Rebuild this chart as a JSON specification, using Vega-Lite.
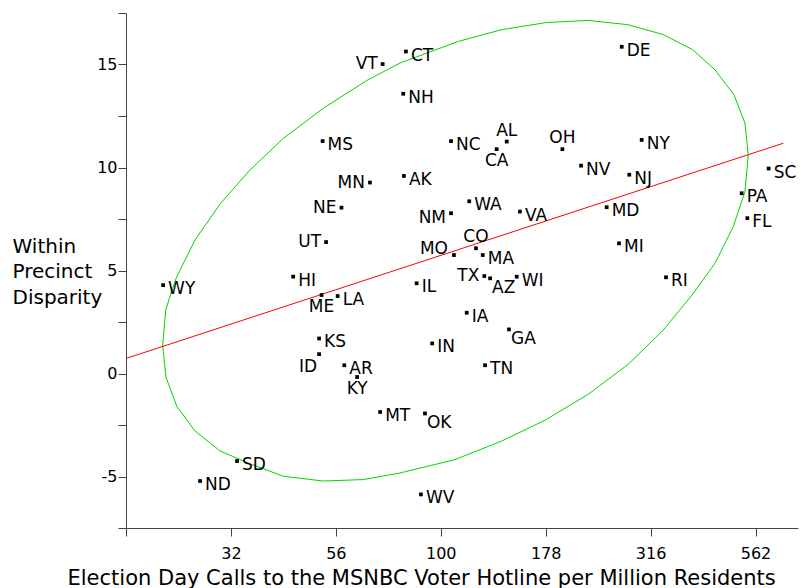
{
  "$schema": "https://vega.github.io/schema/vega-lite/v6.json",
  "width": 672,
  "height": 515,
  "autosize": {"type": "none"},
  "padding": {"left": 126, "top": 13, "right": 3, "bottom": 60},
  "background": "white",
  "config": {
    "view": {"stroke": null},
    "font": "DejaVu Sans",
    "axis": {"grid": false, "domainColor": "#444", "tickColor": "#444", "labelColor": "#000", "titleColor": "#000", "labelFont": "DejaVu Sans", "titleFont": "DejaVu Sans", "titleFontWeight": "normal"}
  },
  "datasets": {
    "states": [
      {"s": "VT", "x": 72.7, "y": 15.02},
      {"s": "MS", "x": 52.3, "y": 11.28},
      {"s": "MN", "x": 67.8, "y": 9.27},
      {"s": "NE", "x": 58.0, "y": 8.05},
      {"s": "UT", "x": 53.3, "y": 6.38},
      {"s": "WY", "x": 21.8, "y": 4.29},
      {"s": "HI", "x": 44.5, "y": 4.70},
      {"s": "CT", "x": 82.6, "y": 15.63},
      {"s": "DE", "x": 269.9, "y": 15.86},
      {"s": "NH", "x": 81.4, "y": 13.58},
      {"s": "AL", "x": 143.6, "y": 11.26},
      {"s": "NC", "x": 105.8, "y": 11.28},
      {"s": "CA", "x": 135.9, "y": 10.89},
      {"s": "OH", "x": 194.9, "y": 10.89},
      {"s": "NY", "x": 301.1, "y": 11.34},
      {"s": "NV", "x": 215.9, "y": 10.09},
      {"s": "NJ", "x": 281.3, "y": 9.65},
      {"s": "SC", "x": 604.4, "y": 9.95},
      {"s": "AK", "x": 81.7, "y": 9.59},
      {"s": "WA", "x": 116.9, "y": 8.36},
      {"s": "PA", "x": 521.2, "y": 8.75},
      {"s": "NM", "x": 105.8, "y": 7.78},
      {"s": "VA", "x": 154.4, "y": 7.86},
      {"s": "MD", "x": 248.5, "y": 8.07},
      {"s": "FL", "x": 537.6, "y": 7.54},
      {"s": "CO", "x": 121.3, "y": 6.08},
      {"s": "MO", "x": 107.5, "y": 5.75},
      {"s": "MA", "x": 125.9, "y": 5.75},
      {"s": "MI", "x": 265.9, "y": 6.32},
      {"s": "TX", "x": 127.0, "y": 4.73},
      {"s": "AZ", "x": 131.1, "y": 4.62},
      {"s": "WI", "x": 151.7, "y": 4.70},
      {"s": "RI", "x": 344.1, "y": 4.67},
      {"s": "IL", "x": 87.6, "y": 4.38},
      {"s": "ME", "x": 52.0, "y": 3.81},
      {"s": "LA", "x": 56.8, "y": 3.76},
      {"s": "KS", "x": 51.3, "y": 1.70},
      {"s": "ID", "x": 51.3, "y": 0.94},
      {"s": "AR", "x": 58.9, "y": 0.40},
      {"s": "KY", "x": 63.2, "y": -0.17},
      {"s": "MT", "x": 71.7, "y": -1.87},
      {"s": "SD", "x": 32.7, "y": -4.25},
      {"s": "ND", "x": 26.7, "y": -5.22},
      {"s": "IA", "x": 115.3, "y": 2.95},
      {"s": "GA", "x": 145.4, "y": 2.14},
      {"s": "IN", "x": 95.4, "y": 1.46},
      {"s": "TN", "x": 127.5, "y": 0.40},
      {"s": "OK", "x": 91.7, "y": -1.94},
      {"s": "WV", "x": 89.7, "y": -5.87}
    ],
    "ellipse": [
      {"i": 1, "x": 79.95, "y": 15.07},
      {"i": 2, "x": 110.1, "y": 16.12},
      {"i": 3, "x": 139.7, "y": 16.69},
      {"i": 4, "x": 178.8, "y": 17.04},
      {"i": 5, "x": 224.6, "y": 17.14},
      {"i": 6, "x": 279.8, "y": 16.93},
      {"i": 7, "x": 339.1, "y": 16.45},
      {"i": 8, "x": 398.4, "y": 15.72},
      {"i": 9, "x": 450.2, "y": 14.74},
      {"i": 10, "x": 499.6, "y": 13.53},
      {"i": 11, "x": 530.7, "y": 12.15},
      {"i": 12, "x": 540.3, "y": 10.61},
      {"i": 13, "x": 530.7, "y": 8.83},
      {"i": 14, "x": 497.7, "y": 7.13},
      {"i": 15, "x": 450.2, "y": 5.35},
      {"i": 16, "x": 396.9, "y": 3.81},
      {"i": 17, "x": 339.1, "y": 2.11},
      {"i": 18, "x": 279.8, "y": 0.45},
      {"i": 19, "x": 224.6, "y": -1.01},
      {"i": 20, "x": 177.1, "y": -2.27},
      {"i": 21, "x": 139.7, "y": -3.28},
      {"i": 22, "x": 108.1, "y": -4.18},
      {"i": 23, "x": 79.95, "y": -4.83},
      {"i": 24, "x": 65.4, "y": -5.15},
      {"i": 25, "x": 52.5, "y": -5.22},
      {"i": 26, "x": 42.2, "y": -4.99},
      {"i": 27, "x": 35.1, "y": -4.38},
      {"i": 28, "x": 29.8, "y": -3.76},
      {"i": 29, "x": 25.97, "y": -2.79},
      {"i": 30, "x": 23.49, "y": -1.59},
      {"i": 31, "x": 22.14, "y": -0.17},
      {"i": 32, "x": 21.75, "y": 1.38},
      {"i": 33, "x": 22.11, "y": 3.08},
      {"i": 34, "x": 22.89, "y": 4.05},
      {"i": 35, "x": 23.49, "y": 4.70},
      {"i": 36, "x": 25.97, "y": 6.48},
      {"i": 37, "x": 29.8, "y": 8.23},
      {"i": 38, "x": 35.1, "y": 9.88},
      {"i": 39, "x": 42.2, "y": 11.42},
      {"i": 40, "x": 52.5, "y": 12.88},
      {"i": 41, "x": 66.6, "y": 14.22},
      {"i": 42, "x": 79.95, "y": 15.07}
    ],
    "fit": [
      {"x": 17.783, "y": 0.73},
      {"x": 655, "y": 11.18}
    ]
  },
  "layer": [
    {
      "data": {"name": "ellipse"},
      "mark": {"type": "line", "color": "#00d400", "strokeWidth": 1, "interpolate": "linear"},
      "encoding": {
        "x": {"field": "x", "type": "quantitative", "scale": {"type": "log", "domain": [17.783, 709.9], "nice": false},
          "axis": {"values": [17.783, 31.623, 56.234, 100, 177.83, 316.23, 562.34], "labelExpr": "datum.value < 20 ? '' : format(datum.value, '.0f')", "tickSize": 8, "labelPadding": 9, "labelFontSize": 16, "title": "Election Day Calls to the MSNBC Voter Hotline per Million Residents", "titleFontSize": 21, "titleAlign": "left", "titleAnchor": "start", "titleBaseline": "alphabetic", "titleX": -59, "titleY": 56, "labelFlush": false}},
        "y": {"field": "y", "type": "quantitative", "scale": {"domain": [-7.5, 17.5], "nice": false, "zero": false},
          "axis": {"values": [-7.5, -5, -2.5, 0, 2.5, 5, 7.5, 10, 12.5, 15, 17.5], "labelExpr": "datum.value % 5 == 0 ? toString(datum.value) : ''", "tickSize": 8, "labelPadding": 1, "labelFontSize": 16, "title": ["Within", "Precinct", "Disparity"], "titleFontSize": 20, "titleAngle": 0, "titleAlign": "left", "titleAnchor": "start", "titleBaseline": "alphabetic", "titleX": -114, "titleY": 239, "titleLineHeight": 25.5, "labelFlush": false,
            "encode": {"ticks": {"update": {"x2": {"signal": "datum.value % 5 == 0 ? -8 : -4"}}}}}},
        "order": {"field": "i", "type": "quantitative"}
      }
    },
    {
      "data": {"name": "fit"},
      "mark": {"type": "line", "color": "#ff0000", "strokeWidth": 1},
      "encoding": {
        "x": {"field": "x", "type": "quantitative"},
        "y": {"field": "y", "type": "quantitative"}
      }
    },
    {
      "data": {"name": "states"},
      "layer": [
        {
          "mark": {"type": "point", "shape": "square", "filled": true, "color": "#000", "size": 14, "opacity": 1},
          "encoding": {"x": {"field": "x", "type": "quantitative"}, "y": {"field": "y", "type": "quantitative"}}
        },
        {
          "transform": [{"filter": {"not": {"field": "s", "oneOf": ["VT", "MN", "NE", "UT", "TX", "NM", "MO", "AL", "OH", "CO", "CA", "KY", "ME", "ID", "AZ", "OK", "GA"]}}}],
          "mark": {"type": "text", "align": "left", "baseline": "middle", "dx": 5, "dy": 4, "fontSize": 17, "color": "#000"},
          "encoding": {"x": {"field": "x", "type": "quantitative"}, "y": {"field": "y", "type": "quantitative"}, "text": {"field": "s"}}
        },
        {
          "transform": [{"filter": {"field": "s", "oneOf": ["VT", "MN", "NE", "UT", "TX"]}}],
          "mark": {"type": "text", "align": "right", "baseline": "middle", "dx": -5, "dy": 0, "fontSize": 17, "color": "#000"},
          "encoding": {"x": {"field": "x", "type": "quantitative"}, "y": {"field": "y", "type": "quantitative"}, "text": {"field": "s"}}
        },
        {
          "transform": [{"filter": {"field": "s", "oneOf": ["NM"]}}],
          "mark": {"type": "text", "align": "right", "baseline": "middle", "dx": -5, "dy": 5, "fontSize": 17, "color": "#000"},
          "encoding": {"x": {"field": "x", "type": "quantitative"}, "y": {"field": "y", "type": "quantitative"}, "text": {"field": "s"}}
        },
        {
          "transform": [{"filter": {"field": "s", "oneOf": ["MO"]}}],
          "mark": {"type": "text", "align": "right", "baseline": "middle", "dx": -6, "dy": -6, "fontSize": 17, "color": "#000"},
          "encoding": {"x": {"field": "x", "type": "quantitative"}, "y": {"field": "y", "type": "quantitative"}, "text": {"field": "s"}}
        },
        {
          "transform": [{"filter": {"field": "s", "oneOf": ["AL", "OH", "CO"]}}],
          "mark": {"type": "text", "align": "center", "baseline": "middle", "dx": 0, "dy": -11, "fontSize": 17, "color": "#000"},
          "encoding": {"x": {"field": "x", "type": "quantitative"}, "y": {"field": "y", "type": "quantitative"}, "text": {"field": "s"}}
        },
        {
          "transform": [{"filter": {"field": "s", "oneOf": ["CA", "KY", "ME"]}}],
          "mark": {"type": "text", "align": "center", "baseline": "middle", "dx": 0, "dy": 12, "fontSize": 17, "color": "#000"},
          "encoding": {"x": {"field": "x", "type": "quantitative"}, "y": {"field": "y", "type": "quantitative"}, "text": {"field": "s"}}
        },
        {
          "transform": [{"filter": {"field": "s", "oneOf": ["ID"]}}],
          "mark": {"type": "text", "align": "right", "baseline": "middle", "dx": -2, "dy": 13, "fontSize": 17, "color": "#000"},
          "encoding": {"x": {"field": "x", "type": "quantitative"}, "y": {"field": "y", "type": "quantitative"}, "text": {"field": "s"}}
        },
        {
          "transform": [{"filter": {"field": "s", "oneOf": ["AZ", "OK", "GA"]}}],
          "mark": {"type": "text", "align": "left", "baseline": "middle", "dx": 2, "dy": 10, "fontSize": 17, "color": "#000"},
          "encoding": {"x": {"field": "x", "type": "quantitative"}, "y": {"field": "y", "type": "quantitative"}, "text": {"field": "s"}}
        }
      ]
    }
  ]
}
